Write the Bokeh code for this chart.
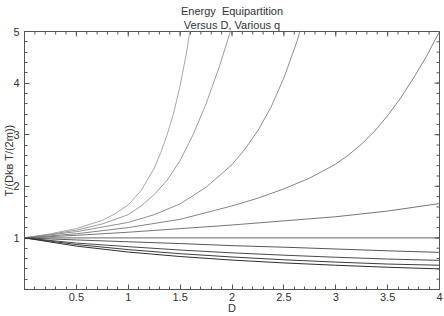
from bokeh.plotting import figure
from bokeh.models import Range1d, FixedTicker, Title
from bokeh.embed import file_html
from bokeh.resources import INLINE

# Ratio of kinetic temperature to D k_B T/(2m), one curve per q value
d_a = [0, 0.25, 0.5, 0.75, 0.875, 1.0, 1.125, 1.25, 1.3125, 1.375, 1.4375,
       1.5, 1.5625, 1.625]
t_a = [1, 1.08, 1.18, 1.34, 1.47, 1.64, 1.92, 2.35, 2.65, 3.0, 3.42,
       3.95, 4.6, 5.4]

d_b = [0, 0.25, 0.5, 0.75, 1.0, 1.125, 1.25, 1.375, 1.5, 1.625, 1.75, 1.875, 2.0]
t_b = [1, 1.07, 1.15, 1.27, 1.45, 1.62, 1.84, 2.12, 2.5, 3.0, 3.6, 4.3, 5.1]

d_c = [0, 0.5, 1.0, 1.25, 1.5, 1.75, 2.0, 2.125, 2.25, 2.375, 2.5, 2.625, 2.75]
t_c = [1, 1.12, 1.3, 1.45, 1.66, 1.98, 2.42, 2.72, 3.08, 3.53, 4.1, 4.8, 5.65]

d_d = [0, 0.5, 1.0, 1.5, 2.0, 2.25, 2.5, 2.75, 3.0, 3.125, 3.25, 3.375,
       3.5, 3.625, 3.75, 3.875, 4.0]
t_d = [1, 1.08, 1.2, 1.36, 1.62, 1.77, 1.95, 2.16, 2.43, 2.61, 2.82, 3.07,
       3.37, 3.71, 4.1, 4.52, 5.0]

d_std = [0, 0.5, 1.0, 1.5, 2.0, 2.5, 3.0, 3.5, 4.0]
t_e = [1, 1.05, 1.11, 1.18, 1.25, 1.33, 1.41, 1.52, 1.666]
t_f = [1, 1, 1, 1, 1, 1, 1, 1, 1]
t_g = [1, 0.96, 0.925, 0.89, 0.85, 0.82, 0.785, 0.75, 0.72]
t_h = [1, 0.9, 0.83, 0.765, 0.71, 0.665, 0.625, 0.59, 0.565]
t_i = [1, 0.872, 0.773, 0.694, 0.63, 0.576, 0.531, 0.493, 0.47]
t_j = [1, 0.841, 0.726, 0.639, 0.57, 0.515, 0.47, 0.431, 0.40]

curves = [
    (d_a, t_a, "#a8a8a8"),
    (d_b, t_b, "#9c9c9c"),
    (d_c, t_c, "#909090"),
    (d_d, t_d, "#848484"),
    (d_std, t_e, "#767676"),
    (d_std, t_f, "#666666"),
    (d_std, t_g, "#575757"),
    (d_std, t_h, "#4a4a4a"),
    (d_std, t_i, "#3c3c3c"),
    (d_std, t_j, "#2e2e2e"),
]

x_ticks = [0.5, 1, 1.5, 2, 2.5, 3, 3.5, 4]
y_ticks = [1, 2, 3, 4, 5]
x_minor = [round(0.1 * k, 1) for k in range(0, 41)]
y_minor = [round(0.2 * k, 1) for k in range(0, 26)]

FONT = "Liberation Sans"
FRAME = "#555555"
TEXT = "#333333"
X_MAX, Y_MAX = 4, 5

p = figure(width=444, height=316, output_backend="svg", toolbar_location=None,
           x_range=Range1d(0, X_MAX), y_range=Range1d(0, Y_MAX),
           min_border_left=20, min_border_right=5,
           min_border_top=31, min_border_bottom=26)
p.outline_line_color = FRAME
p.grid.visible = False
p.background_fill_color = "white"
p.border_fill_color = "white"

for xs, ys, col in curves:
    p.line(xs, ys, line_color=col, line_width=1)


def style_axis(ax, ticks, minor, label_standoff, title_standoff):
    ax.ticker = FixedTicker(ticks=ticks, minor_ticks=minor)
    ax.axis_line_color = FRAME
    ax.major_tick_line_color = FRAME
    ax.minor_tick_line_color = FRAME
    ax.major_tick_in = 5
    ax.major_tick_out = 0
    ax.minor_tick_in = 3
    ax.minor_tick_out = 0
    ax.major_label_text_font = FONT
    ax.major_label_text_font_size = "11px"
    ax.major_label_text_color = TEXT
    ax.major_label_standoff = label_standoff
    ax.axis_label_text_font = FONT
    ax.axis_label_text_font_size = "11px"
    ax.axis_label_text_color = TEXT
    ax.axis_label_text_font_style = "normal"
    ax.axis_label_standoff = title_standoff


style_axis(p.xaxis[0], x_ticks, x_minor, 3, -2)
style_axis(p.yaxis[0], y_ticks, y_minor, 5, -5)
p.xaxis[0].axis_label = "D"
p.yaxis[0].axis_label = "T/(Dk\u0299 T/(2m))"

# inward frame ticks along the top and right edges, mirroring the bottom/left
maj_x = 5 / 104.6
min_x = 3 / 104.6
maj_y = 5 / 51.8
min_y = 3 / 51.8
p.segment(x0=x_ticks, y0=[Y_MAX] * len(x_ticks), x1=x_ticks,
          y1=[Y_MAX - maj_y] * len(x_ticks), line_color=FRAME, line_width=1)
p.segment(x0=x_minor, y0=[Y_MAX] * len(x_minor), x1=x_minor,
          y1=[Y_MAX - min_y] * len(x_minor), line_color=FRAME, line_width=1)
p.segment(x0=[X_MAX] * len(y_ticks), y0=y_ticks, x1=[X_MAX - maj_x] * len(y_ticks),
          y1=y_ticks, line_color=FRAME, line_width=1)
p.segment(x0=[X_MAX] * len(y_minor), y0=y_minor, x1=[X_MAX - min_x] * len(y_minor),
          y1=y_minor, line_color=FRAME, line_width=1)

sub = Title(text="Versus D, Various q", align="center", text_font=FONT,
            text_font_size="11px", text_color=TEXT, text_font_style="normal",
            standoff=1)
main = Title(text="Energy\u00a0 Equipartition", align="center", text_font=FONT,
             text_font_size="11px", text_color=TEXT, text_font_style="normal",
             standoff=-1)
p.add_layout(sub, "above")
p.add_layout(main, "above")

open("out.html", "w").write(file_html(p, INLINE))
